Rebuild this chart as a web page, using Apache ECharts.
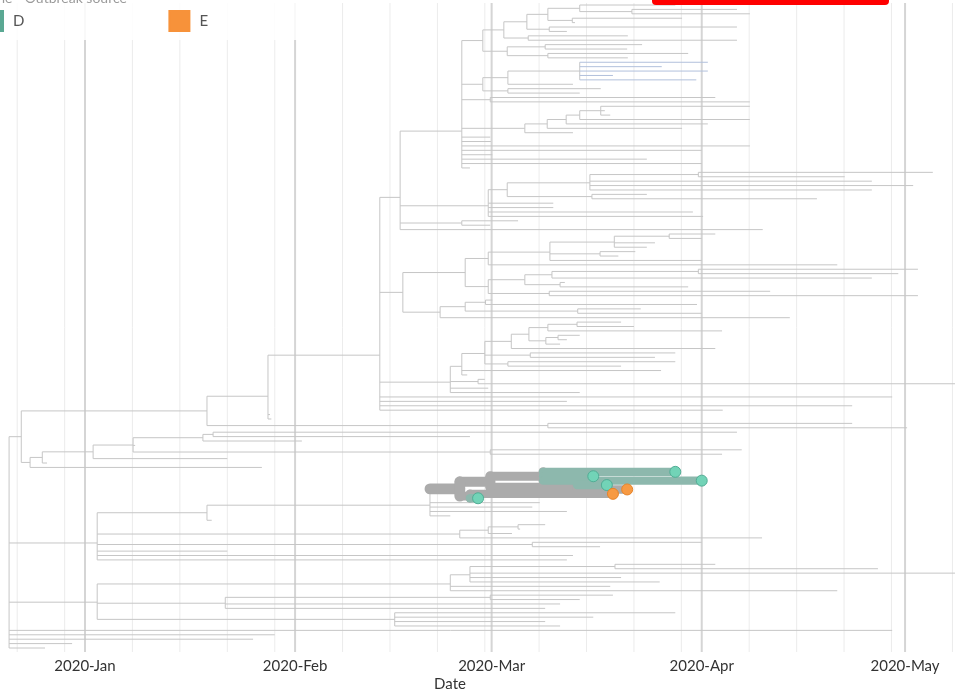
<!DOCTYPE html>
<html>
<head>
<meta charset="utf-8">
<script src="https://cdn.jsdelivr.net/npm/echarts@6/dist/echarts.min.js"></script>
<style>
  html, body { margin: 0; padding: 0; background: #fff; }
  #chart { width: 955px; height: 692px; }
</style>
</head>
<body>
<div id="chart"></div>
<script>
// ---------------------------------------------------------------------------
// Time-scaled phylogeny. All dates are days since 2020-01-01.
// Node: [day, [children]]   Tip: day  or  [day, group]
// Groups: 'D', 'E' = outbreak labels, 'C' = lineage shown in blue.
// ---------------------------------------------------------------------------

const monthTickDates = ['2020-01-01', '2020-02-01', '2020-03-01', '2020-04-01', '2020-05-01'];
const monthTickLabels = ['2020-Jan', '2020-Feb', '2020-Mar', '2020-Apr', '2020-May'];
const weekGridDates = [
  '2019-12-22', '2019-12-29', '2020-01-08', '2020-01-15', '2020-01-22', '2020-01-29',
  '2020-02-08', '2020-02-15', '2020-02-22', '2020-02-29', '2020-03-08', '2020-03-15',
  '2020-03-22', '2020-03-29', '2020-04-08', '2020-04-15', '2020-04-22', '2020-04-29',
  '2020-05-08'
];

const legendGroups = ['D', 'E'];

const cladeNorthA = [58.7, [
  [61.8, [
    [65.2, [
      [68.3, [
        [73.0, [87.1, [80.7, [96.2, 98.1]]]],
        [71.9, [88.1, 72.3]]
      ]],
      [68.5, [96.2, 71.1]]
    ]],
    [65.4, [80.1, 96.2]]
  ]],
  [62.3, [
    [67.9, [82.2, 80.0]],
    [68.3, [89.0, 80.1]]
  ]]
]];

const cladeNorthB = [58.7, [
  [62.4, [
    [73.0, [[91.9, 'C'], [85.1, 'C'], [91.9, 'C'], [77.9, 'C'], [90.2, 'C']]],
    72.0
  ]],
  [62.4, [76.1, 73.0]]
]];

const cladeNorthC = [64.9, [
  [68.2, [
    [71.0, [
      [73.0, [
        [76.1, [98.1, 76.7, 77.5]],
        98.1
      ]],
      91.9
    ]],
    88.1
  ]],
  72.0
]];

const cladeNorth = [55.6, [
  cladeNorthA, cladeNorthB, [59.8, [93.0, 98.1]], cladeNorthC,
  59.8, 59.9, 98.1, 91.0, 60.1, 82.9, 91.0, 56.8
]];

const cladeNorthD = [59.5, [
  [62.3, [
    [74.5, [[90.5, [125.1, 112.1]], 116.1, 122.2, 116.1]],
    [74.8, [82.9, 108.0]]
  ]],
  69.1, 69.1, 89.7, 91.2
]];

const cladeUpper = [46.5, [cladeNorth, cladeNorthD, [55.6, [63.9, 59.8]], 100.0]];

const cladeMidA = [46.9, [
  [56.1, [
    [59.5, [
      [68.6, [
        [78.1, [[86.2, [93.0, 91.0]], 84.1, 82.9]],
        [76.0, [81.2, 78.7]],
        91.0
      ]],
      111.0
    ]],
    [59.5, [
      [64.9, [
        [68.9, [[90.5, [122.9, 120.0]], 116.1]],
        [70.1, [70.8, 89.0]]
      ]],
      [68.5, [101.1, 122.9]]
    ]]
  ]],
  [52.4, [
    [56.1, [
      [59.1, [60.1, 90.3]],
      [72.7, [82.0, 91.0]]
    ]],
    104.0
  ]]
]];

const cladeMidB = [53.9, [
  [55.6, [
    [59.0, [
      [62.9, [
        [65.5, [
          [68.3, [[72.6, [79.1, 81.0]], 94.0]],
          [68.0, [[69.8, [73.0, 71.1]], 70.1]]
        ]],
        93.0
      ]],
      [65.7, [87.1, 84.1]],
      [62.4, [87.1, 79.1]]
    ]],
    85.0, 56.4
  ]],
  [58.0, [59.0, 132.0]],
  59.5, 73.0
]];

const cladeEarlyA = [18.0, [
  [27.0, [
    [43.5, [cladeUpper, cladeMidA, cladeMidB, 119.1, 71.1, 113.2, 94.1]],
    27.3, 27.5
  ]],
  [68.3, [113.2, 121.3]]
]];

const cladeEarlyB = [-8.1, [
  [-6.3, [
    [1.2, [
      [7.1, [
        [17.4, [[18.9, [96.2, 56.8]], 32.0]],
        7.4,
        [59.8, [96.9, 94.0]]
      ]],
      21.0
    ]],
    -5.6
  ]],
  26.1
]];

// Outbreak cluster: drawn with heavy branches.
const outbreakClade = [55.3, [
  [59.8, [
    [67.6, [[87.1, 'D'], [75.0, 'D'], [91.0, 'D']]],
    [72.6, [[77.0, 'D'], [80.0, 'E']]]
  ]],
  [56.8, [[77.9, 'E'], [58.0, 'D']]]
]];

const cladeOutbreakHost = [1.8, [
  [18.0, [[50.9, [outbreakClade, 67.1, 66.0, 71.1, 53.9]], 18.7]],
  [55.3, [[59.5, [[63.9, [67.9, 64.2]], 63.0]], 99.9]],
  [66.0, [91.0, 76.0]],
  21.0, 72.0, 71.1
]];

const cladeLower = [1.8, [
  [53.9, [[56.8, [[78.2, [93.0, 117.0]], 132.0, 79.1, 84.8]], 77.5, 111.0]],
  [20.7, [[59.8, [77.9, 73.0]], 70.1, 67.9]],
  [45.7, [87.1, 75.0, 67.9, 70.1]]
]];

const treeRoot = [-11.2, [
  [-9.4, [cladeEarlyA, cladeEarlyB]],
  cladeOutbreakHost,
  cladeLower,
  119.1, 28.0, 24.8, -1.9, -5.9
]];

// ---------------------------------------------------------------------------
// Styling
// ---------------------------------------------------------------------------
const COLORS = {
  thin: '#c6c6c6',
  blue: '#b1c0dc',
  thick: '#ababab',
  tealBranch: '#8db8ad',
  D: { fill: '#72d3b7', stroke: '#52ad95', legend: '#5aa893' },
  E: { fill: '#f79a43', stroke: '#e6842a', legend: '#f7923a' },
  majorGrid: '#d5d5d5',
  minorGrid: '#ececec',
  text: '#333'
};

// Pixel layout of the plotting area
const GRID_TOP = 3, GRID_BOTTOM = 652, FIRST_TIP_PX = 5, LAST_TIP_PX = 648;
const X_MIN = -12.54, X_MAX = 128.37;

function dayOf(dateStr) {
  const [y, m, d] = dateStr.split('-').map(Number);
  return (Date.UTC(y, m - 1, d) - Date.UTC(2020, 0, 1)) / 86400000;
}

// ---------------------------------------------------------------------------
// Rectangular tree layout: tips in order, internal node y = mean of children
// ---------------------------------------------------------------------------
const isNode = n => Array.isArray(n) && Array.isArray(n[1]);
const nodeDay = n => (typeof n === 'number' ? n : n[0]);

const branchRows = [];
const tipPoints = { D: [], E: [] };
let tipCounter = 0;

function layout(n, parentDay, heavy) {
  const day = nodeDay(n);
  if (!isNode(n)) {
    const group = Array.isArray(n) ? n[1] : null;
    const y = tipCounter++;
    let code = 0;
    if (heavy) code = group === 'D' ? 3 : 2;
    else if (group === 'C') code = 1;
    branchRows.push({ x0: parentDay, x1: day, y, yTop: null, yBot: null, code, tips: 1 });
    if (group && tipPoints[group]) tipPoints[group].push([day, y]);
    return { y, tips: 1 };
  }
  const inHeavy = heavy || n === outbreakClade;
  let tips = 0;
  const ys = n[1].map(c => {
    const r = layout(c, day, inHeavy);
    tips += r.tips;
    return r.y;
  });
  const y = ys.reduce((a, b) => a + b, 0) / ys.length;
  branchRows.push({ x0: parentDay, x1: day, y, yTop: Math.min(...ys), yBot: Math.max(...ys),
                    code: inHeavy ? 2 : 0, tips });
  return { y, tips };
}
layout(treeRoot, nodeDay(treeRoot), false);

const nTips = tipCounter;
const tipStep = (LAST_TIP_PX - FIRST_TIP_PX) / (nTips - 1);
const Y_MIN = -(FIRST_TIP_PX - GRID_TOP) / tipStep;
const Y_MAX = (nTips - 1) + (GRID_BOTTOM - LAST_TIP_PX) / tipStep;

const heavyWidth = tips => 8 + 0.4 * tips;
branchRows.sort((a, b) => a.code - b.code);
const branchData = branchRows.map(b => [
  b.x0, b.x1, b.y,
  b.yTop == null ? b.y : b.yTop,
  b.yBot == null ? b.y : b.yBot,
  b.code,
  b.code >= 2 ? heavyWidth(b.tips) : 1,
  b.yTop == null ? 0 : 1
]);

const gridData = monthTickDates.map(d => [dayOf(d), 1])
  .concat(weekGridDates.map(d => [dayOf(d), 0]));
const monthTickDays = monthTickDates.map(dayOf);

// ---------------------------------------------------------------------------
// Chart
// ---------------------------------------------------------------------------
const chart = echarts.init(document.getElementById('chart'), null, { renderer: 'canvas' });

function renderGrid(params, api) {
  const cs = params.coordSys;
  const x = api.coord([api.value(0), 0])[0];
  const major = api.value(1) === 1;
  return {
    type: 'line',
    shape: { x1: x, y1: cs.y, x2: x, y2: cs.y + cs.height },
    style: { stroke: major ? COLORS.majorGrid : COLORS.minorGrid, lineWidth: major ? 2 : 1 }
  };
}

function branchStroke(code) {
  return [COLORS.thin, COLORS.blue, COLORS.thick, COLORS.tealBranch][code];
}

function renderBranch(params, api) {
  const x0 = api.value(0), x1 = api.value(1), y = api.value(2);
  const code = api.value(5), width = api.value(6), internal = api.value(7) === 1;
  const heavy = code >= 2;
  const cap = heavy ? 'round' : 'butt';
  const children = [];
  if (x1 > x0) {
    const a = api.coord([x0, y]), b = api.coord([x1, y]);
    children.push({
      type: 'line',
      shape: { x1: a[0], y1: a[1], x2: b[0], y2: b[1] },
      style: { stroke: branchStroke(code), lineWidth: width, lineCap: cap }
    });
  }
  if (internal) {
    const t = api.coord([x1, api.value(3)]), u = api.coord([x1, api.value(4)]);
    children.push({
      type: 'line',
      shape: { x1: t[0], y1: t[1], x2: u[0], y2: u[1] },
      style: { stroke: heavy ? COLORS.thick : COLORS.thin, lineWidth: width, lineCap: cap }
    });
  }
  return { type: 'group', children };
}

const option = {
  animation: false,
  backgroundColor: '#fff',
  grid: {
    left: 0, right: 0, top: GRID_TOP, bottom: 692 - GRID_BOTTOM,
    containLabel: false, outerBoundsMode: 'none'
  },
  xAxis: {
    type: 'value',
    min: X_MIN, max: X_MAX,
    axisLine: { show: false },
    axisTick: { show: false },
    splitLine: { show: false },
    axisLabel: {
      customValues: monthTickDays,
      formatter: v => monthTickLabels[monthTickDays.indexOf(v)] || '',
      margin: 7,
      color: COLORS.text,
      fontSize: 15,
      fontFamily: 'Lato'
    }
  },
  yAxis: {
    type: 'value', inverse: true, min: Y_MIN, max: Y_MAX, show: false
  },
  legend: {
    data: legendGroups.map(g => ({ name: g, itemStyle: { color: COLORS[g].legend, borderColor: COLORS[g].legend } })),
    icon: 'rect',
    left: -18, top: 10, padding: 0,
    itemWidth: 20, itemHeight: 20, itemGap: 144,
    textStyle: { color: '#555', fontSize: 15, fontFamily: 'Lato', padding: [0, 0, 0, 5] },
    selectedMode: false
  },
  graphic: [
    { type: 'rect', z: 3, shape: { x: 0, y: 0, width: 330, height: 40 },
      style: { fill: 'rgba(255,255,255,0.85)' }, silent: true },
    { type: 'text', z: 5, x: -40, y: 5,
      style: { text: 'Timeline - Outbreak source', fill: '#9a9a9a', fontSize: 14,
               fontFamily: 'Lato', verticalAlign: 'bottom' }, silent: true },
    { type: 'rect', z: 10, shape: { x: 652, y: -6, width: 237, height: 11, r: 4 },
      style: { fill: '#ff0000' }, silent: true },
    { type: 'text', z: 5, x: 450, y: 684,
      style: { text: 'Date', fill: COLORS.text, fontSize: 15, fontFamily: 'Lato',
               align: 'center', verticalAlign: 'middle' }, silent: true }
  ],
  series: [
    {
      type: 'custom', name: 'grid', silent: true, z: 1,
      renderItem: renderGrid, data: gridData, encode: { x: 0 }
    },
    {
      type: 'custom', name: 'branches', silent: true, z: 2, clip: true,
      renderItem: renderBranch, data: branchData,
      encode: { x: [0, 1], y: [2, 3, 4] }
    },
    ...legendGroups.map(g => ({
      type: 'scatter', name: g, z: 5,
      symbol: 'circle', symbolSize: 11,
      itemStyle: { color: COLORS[g].fill, borderColor: COLORS[g].stroke, borderWidth: 1, opacity: 1 },
      data: tipPoints[g]
    }))
  ]
};

chart.setOption(option);
</script>
</body>
</html>
